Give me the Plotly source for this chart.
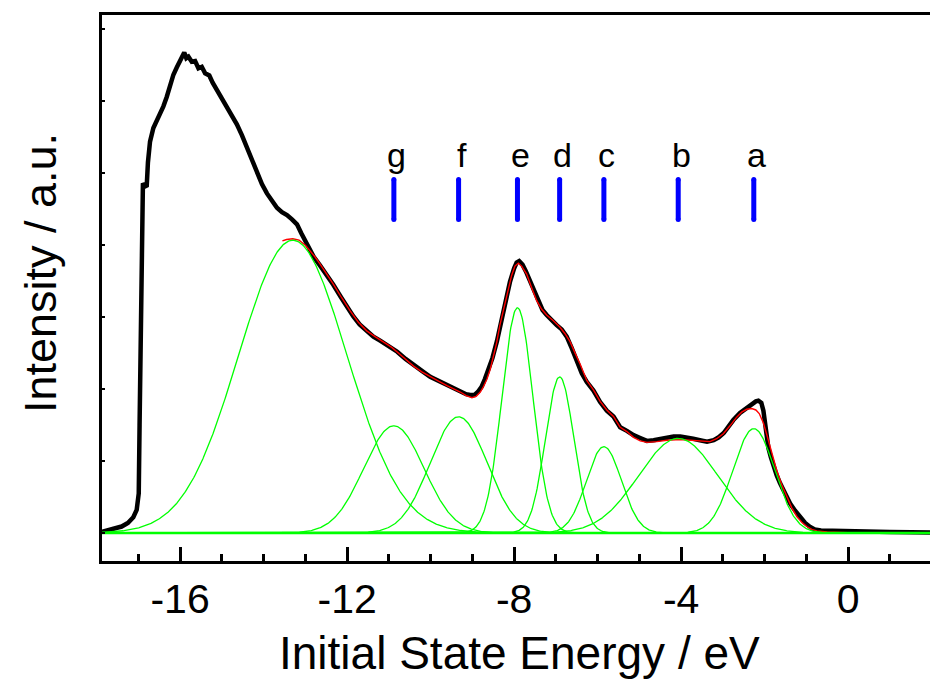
import numpy as np
import plotly.graph_objects as go

# Measured valence-band spectrum: initial state energy (eV) and intensity (a.u.)
energy = [
    -17.87, -17.60, -17.40, -17.25, -17.12, -17.04, -16.99, -16.97, -16.95, -16.93,
    -16.91, -16.89, -16.85, -16.80, -16.77, -16.72, -16.64, -16.56, -16.48, -16.40,
    -16.32, -16.24, -16.16, -16.08, -16.00, -15.95, -15.90, -15.85, -15.80, -15.72,
    -15.64, -15.56, -15.48, -15.40, -15.30, -15.22, -15.12, -15.00, -14.88, -14.76,
    -14.64, -14.52, -14.40, -14.28, -14.16, -14.04, -13.92, -13.80, -13.68, -13.56,
    -13.44, -13.32, -13.20, -13.10, -13.00, -12.90, -12.80, -12.65, -12.50, -12.33,
    -12.15, -12.00, -11.85, -11.70, -11.55, -11.37, -11.20, -10.97, -10.80, -10.60,
    -10.41, -10.20, -10.01, -9.80, -9.61, -9.45, -9.29, -9.15, -9.05, -8.95,
    -8.87, -8.78, -8.70, -8.62, -8.52, -8.41, -8.30, -8.20, -8.10, -8.00,
    -7.94, -7.88, -7.80, -7.72, -7.62, -7.52, -7.42, -7.32, -7.22, -7.10,
    -6.98, -6.86, -6.74, -6.62, -6.50, -6.38, -6.26, -6.10, -5.94, -5.78,
    -5.62, -5.46, -5.30, -5.14, -4.98, -4.82, -4.66, -4.50, -4.34, -4.18,
    -4.02, -3.86, -3.71, -3.55, -3.38, -3.22, -3.10, -2.98, -2.86, -2.75,
    -2.59, -2.43, -2.31, -2.21, -2.15, -2.08, -2.03, -1.99, -1.95, -1.91,
    -1.85, -1.79, -1.71, -1.63, -1.51, -1.39, -1.27, -1.15, -1.03, -0.91,
    -0.80, -0.65, -0.35, 0.05, 0.50, 1.00, 1.50, 1.96,
]
intensity = [
    0.015, 0.05, 0.09, 0.14, 0.22, 0.32, 0.55, 1.50, 2.60, 3.60,
    4.50, 4.86, 4.83, 4.81, 5.15, 5.44, 5.63, 5.72, 5.84, 5.93,
    6.06, 6.22, 6.37, 6.47, 6.55, 6.60, 6.68, 6.60, 6.62, 6.55,
    6.56, 6.46, 6.48, 6.39, 6.36, 6.26, 6.16, 6.04, 5.93, 5.80,
    5.68, 5.53, 5.36, 5.18, 5.00, 4.85, 4.72, 4.62, 4.52, 4.46,
    4.42, 4.36, 4.29, 4.17, 4.05, 3.93, 3.84, 3.72, 3.60, 3.45,
    3.28, 3.14, 3.01, 2.90, 2.82, 2.73, 2.67, 2.59, 2.52, 2.42,
    2.33, 2.25, 2.17, 2.11, 2.06, 2.01, 1.97, 1.93, 1.92, 1.92,
    1.96, 2.03, 2.14, 2.26, 2.43, 2.67, 2.98, 3.25, 3.49, 3.68,
    3.76, 3.78, 3.73, 3.64, 3.50, 3.34, 3.20, 3.10, 3.03, 2.95,
    2.89, 2.83, 2.73, 2.57, 2.38, 2.22, 2.10, 1.98, 1.82, 1.70,
    1.62, 1.47, 1.42, 1.36, 1.32, 1.28, 1.29, 1.31, 1.32, 1.34,
    1.34, 1.33, 1.31, 1.29, 1.27, 1.29, 1.33, 1.39, 1.49, 1.57,
    1.67, 1.74, 1.79, 1.83, 1.84, 1.81, 1.70, 1.52, 1.32, 1.18,
    1.05, 0.92, 0.80, 0.69, 0.54, 0.41, 0.31, 0.22, 0.14, 0.085,
    0.048, 0.036, 0.030, 0.024, 0.018, 0.013, 0.009, 0.007,
]

# Fit envelope over the fitted window
fit_energy = [
    -13.55, -13.45, -13.30, -13.15, -13.00, -12.89, -12.77, -12.65, -12.50, -12.33,
    -12.13, -11.93, -11.73, -11.53, -11.33, -11.13, -10.93, -10.73, -10.57, -10.41,
    -10.21, -10.01, -9.81, -9.61, -9.45, -9.29, -9.15, -9.01, -8.91, -8.81,
    -8.73, -8.65, -8.57, -8.50, -8.42, -8.34, -8.25, -8.17, -8.06, -7.98,
    -7.90, -7.82, -7.70, -7.58, -7.46, -7.34, -7.22, -7.06, -6.90, -6.78,
    -6.66, -6.54, -6.42, -6.26, -6.10, -5.94, -5.78, -5.62, -5.46, -5.30,
    -5.14, -4.98, -4.82, -4.58, -4.34, -4.02, -3.78, -3.55, -3.31, -3.15,
    -2.99, -2.83, -2.67, -2.55, -2.43, -2.31, -2.21, -2.13, -2.03, -1.95,
    -1.87, -1.79, -1.71, -1.59, -1.47, -1.35, -1.23, -1.11, -0.99, -0.87,
    -0.75, -0.50, 0.00, 1.00, 1.96,
]
fit_intensity = [
    4.06, 4.08, 4.09, 4.07, 4.00, 3.93, 3.84, 3.74, 3.61, 3.46,
    3.27, 3.09, 2.93, 2.81, 2.73, 2.66, 2.58, 2.48, 2.40, 2.32,
    2.24, 2.17, 2.11, 2.05, 2.01, 1.96, 1.91, 1.88, 1.90, 1.96,
    2.04, 2.14, 2.28, 2.43, 2.64, 2.89, 3.12, 3.32, 3.58, 3.71,
    3.75, 3.71, 3.60, 3.41, 3.23, 3.11, 3.03, 2.95, 2.86, 2.77,
    2.66, 2.50, 2.35, 2.12, 1.99, 1.83, 1.71, 1.62, 1.47, 1.41,
    1.33, 1.28, 1.26, 1.27, 1.29, 1.30, 1.29, 1.27, 1.27, 1.31,
    1.38, 1.49, 1.61, 1.68, 1.72, 1.73, 1.71, 1.66, 1.53, 1.37,
    1.20, 1.03, 0.87, 0.67, 0.50, 0.35, 0.23, 0.15, 0.09, 0.05,
    0.03, 0.015, 0.006, 0.002, 0.001,
]

# Fitted Gaussian components a-g: centre (eV), height (a.u.), sigma (eV)
peak_labels = ["a", "b", "c", "d", "e", "f", "g"]
peak_centres = [-2.26, -4.07, -5.85, -6.91, -7.92, -9.33, -10.88]
peak_heights = [1.45, 1.315, 1.20, 2.17, 3.13, 1.615, 1.49]
peak_sigmas = [0.50, 0.95, 0.42, 0.34, 0.37, 0.68, 0.72]

# Broad unlabelled component at high binding energy
band_centre = -13.30
band_height = 4.07
band_sigma = 1.30

# Energy axis tick labels
tick_values = [-16, -12, -8, -4, 0]
tick_labels = ["-16", "-12", "-8", "-4", "0"]

X_RANGE = [-17.87, 1.96]
Y_RANGE = [-0.389, 7.20]
MARK_LOW, MARK_HIGH = 4.358, 4.914   # extent of the peak-position markers

FONT = "Liberation Sans, Arial, sans-serif"
GREEN = "#00ff00"

grid = np.linspace(X_RANGE[0], X_RANGE[1], 1200)


def gaussian(x, centre, height, sigma):
    return height * np.exp(-0.5 * ((x - centre) / sigma) ** 2)


fig = go.Figure()

fig.add_trace(go.Scatter(
    x=energy, y=intensity, mode="lines",
    line=dict(color="black", width=4.5), hoverinfo="skip", showlegend=False,
))
fig.add_trace(go.Scatter(
    x=fit_energy, y=fit_intensity, mode="lines",
    line=dict(color="#ff0000", width=1.4), hoverinfo="skip", showlegend=False,
))

components = [(band_centre, band_height, band_sigma)] + list(
    zip(peak_centres, peak_heights, peak_sigmas))
for c, h, s in components:
    fig.add_trace(go.Scatter(
        x=grid, y=gaussian(grid, c, h, s), mode="lines",
        line=dict(color=GREEN, width=1.3), hoverinfo="skip", showlegend=False,
    ))

# zero background of the fit
fig.add_trace(go.Scatter(
    x=[X_RANGE[0], X_RANGE[1]], y=[0, 0], mode="lines",
    line=dict(color=GREEN, width=2.6), hoverinfo="skip", showlegend=False,
))

# peak-position markers
mx, my = [], []
for c in peak_centres:
    mx += [c, c, None]
    my += [MARK_LOW, MARK_HIGH, None]
fig.add_trace(go.Scatter(
    x=mx, y=my, mode="lines+markers",
    line=dict(color="#0000ff", width=5),
    marker=dict(color="#0000ff", size=5, line=dict(width=0)),
    hoverinfo="skip", showlegend=False,
))

annotations = []
for lab, c in zip(peak_labels, peak_centres):
    annotations.append(dict(
        x=c, y=MARK_HIGH, xref="x", yref="y", text=lab, showarrow=False,
        xanchor="center", yanchor="bottom", xshift=3, yshift=3,
        font=dict(family=FONT, size=34, color="black"),
    ))
annotations.append(dict(
    x=0.504, y=-0.168, xref="paper", yref="paper",
    text="Initial State Energy / eV", showarrow=False,
    xanchor="center", yanchor="middle",
    font=dict(family=FONT, size=46, color="black"),
))
annotations.append(dict(
    x=-0.0745, y=0.528, xref="paper", yref="paper",
    text="Intensity / a.u.", showarrow=False, textangle=-90,
    xanchor="center", yanchor="middle",
    font=dict(family=FONT, size=45, color="black"),
))

fig.update_layout(
    width=930, height=680,
    margin=dict(l=102, r=0, t=15, b=119),
    paper_bgcolor="white", plot_bgcolor="white",
    font=dict(family=FONT, color="black"),
    annotations=annotations,
    xaxis=dict(
        range=X_RANGE, showgrid=False, zeroline=False,
        showline=True, linecolor="black", linewidth=3, mirror=True,
        ticks="inside", tickmode="array", tickvals=tick_values, ticktext=tick_labels,
        ticklen=14, tickwidth=3, tickcolor="black",
        minor=dict(ticks="inside", dtick=1, tick0=0, ticklen=7, tickwidth=3,
                   tickcolor="black", showgrid=False),
        tickfont=dict(family=FONT, size=41, color="black"),
        ticklabelstandoff=0,
    ),
    xaxis2=dict(
        range=X_RANGE, overlaying="x", side="top", anchor="y",
        showgrid=False, zeroline=False, showline=False, showticklabels=False,
        ticks="inside", tick0=0.18, dtick=1, ticklen=3, tickwidth=2, tickcolor="black",
    ),
    yaxis=dict(
        range=Y_RANGE, showgrid=False, zeroline=False,
        showline=True, linecolor="black", linewidth=3, mirror=False,
        ticks="inside", tick0=0, dtick=1, ticklen=3, tickwidth=2, tickcolor="black",
        showticklabels=False,
    ),
)

fig.write_html("out.html")
